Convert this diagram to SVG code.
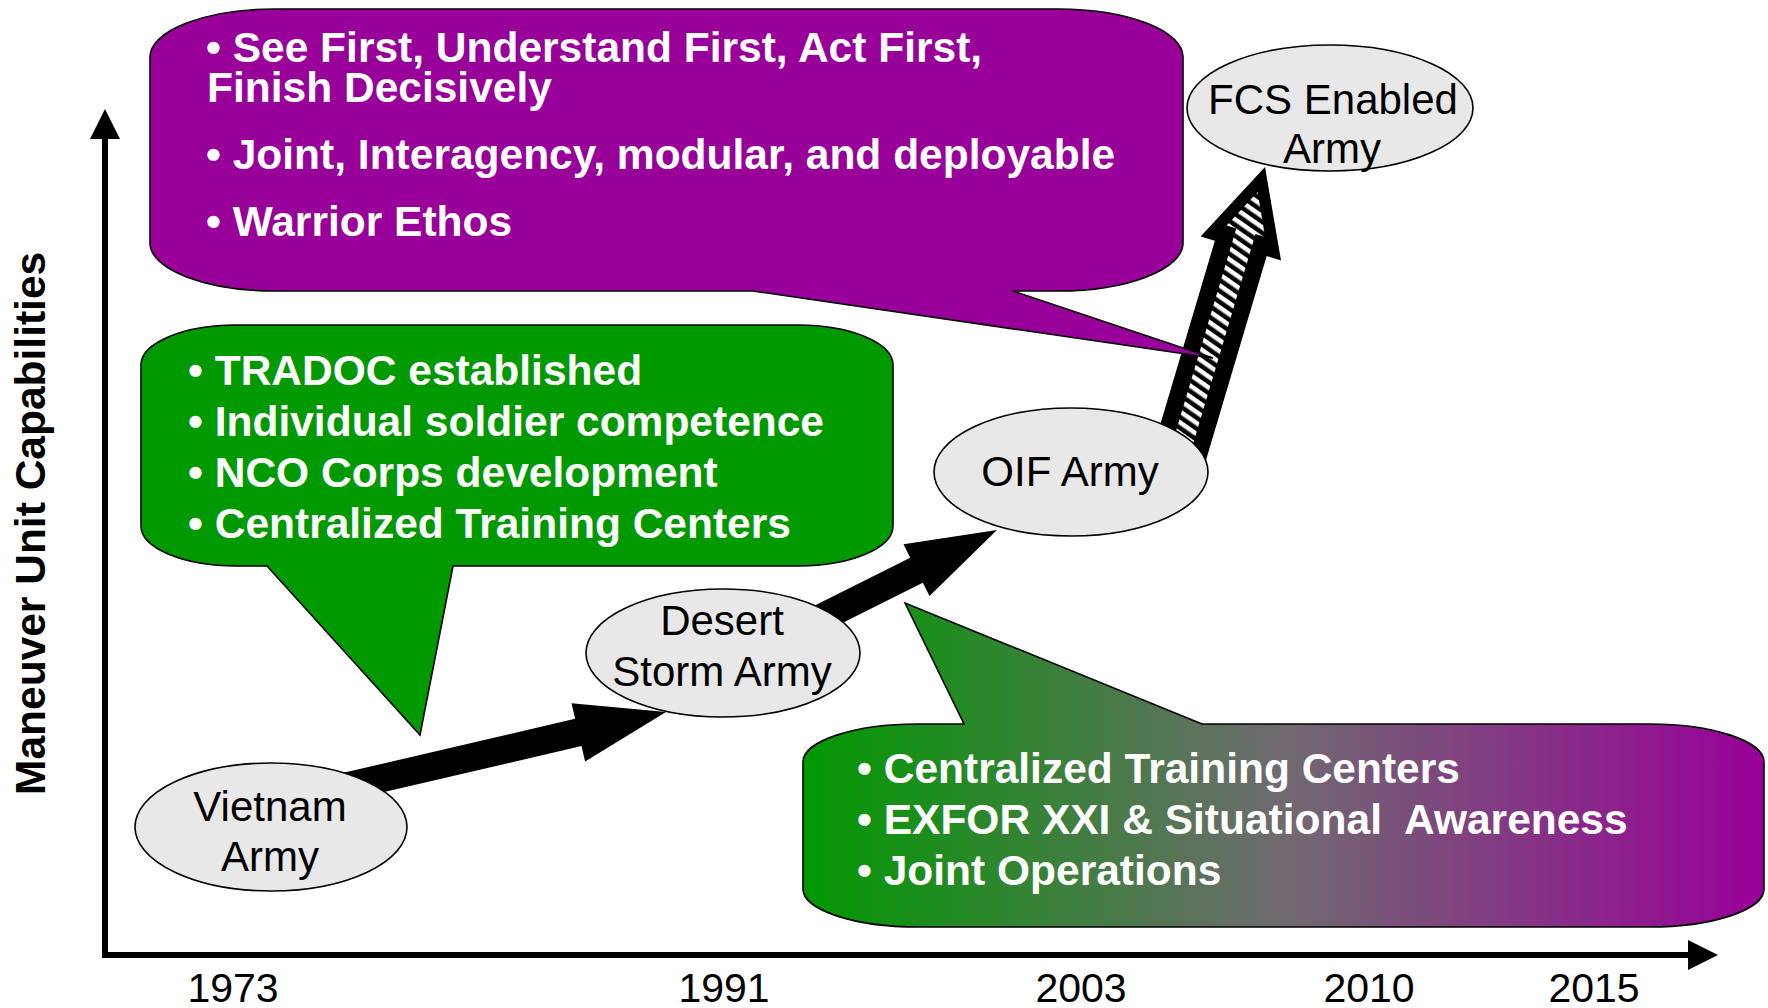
<svg xmlns="http://www.w3.org/2000/svg" width="1768" height="1008" viewBox="0 0 1768 1008">
<defs>
<style>
.node ellipse{fill:#e8e8e8;stroke:#000;stroke-width:1.6}
.nl{font-family:"Liberation Sans",Arial,sans-serif;font-size:42px;fill:#000;text-anchor:middle}
.ct{font-family:"Liberation Sans",Arial,sans-serif;font-size:42.5px;font-weight:bold;fill:#fff;white-space:pre}
.yr{font-family:"Liberation Sans",Arial,sans-serif;font-size:41px;fill:#000;text-anchor:middle}
.callout{stroke:#000;stroke-width:1.6}
.blk{fill:#000}
</style>
<linearGradient id="gp" gradientUnits="userSpaceOnUse" x1="803" y1="0" x2="1764" y2="0">
<stop offset="0" stop-color="#009900"/>
<stop offset="0.5" stop-color="#706a70"/>
<stop offset="1" stop-color="#990099"/>
</linearGradient>
<pattern id="hatch" patternUnits="userSpaceOnUse" width="9" height="9" patternTransform="rotate(35)">
<rect width="9" height="9" fill="#000"/>
<rect width="9" height="4.5" fill="#fff"/>
</pattern>
</defs>
<rect width="1768" height="1008" fill="#fff"/>

<g id="axes">
<path d="M105,139 V955 H1690" fill="none" stroke="#000" stroke-width="6"/>
<polygon points="105,109 90,139 120,139" class="blk"/>
<polygon points="1718,955 1688,940 1688,970" class="blk"/>
<text transform="translate(45,795) rotate(-90)" font-family="Liberation Sans, Arial, sans-serif" font-size="42.5" font-weight="bold" fill="#000">Maneuver Unit Capabilities</text>
<text class="yr" x="233" y="1002">1973</text>
<text class="yr" x="724" y="1002">1991</text>
<text class="yr" x="1081" y="1002">2003</text>
<text class="yr" x="1369" y="1002">2010</text>
<text class="yr" x="1594" y="1002">2015</text>
</g>

<g id="connectors">
<polygon class="blk" points="666,712 585.1,761.6 581.5,746 318.6,807.3 312.2,780.1 575.1,718.8 571.5,703.2"/>
<polygon class="blk" points="997,530 929.5,596.1 922.8,582.7 779.8,654.3 767.2,629.3 910.2,557.7 903.5,544.3"/>
<polygon class="blk" points="1265,167 1281,260.4 1266.7,256.1 1199.7,481.3 1147.9,465.9 1214.9,240.7 1200.6,236.4"/>
<polygon fill="url(#hatch)" points="1257.6,191.9 1265.1,236.9 1255.5,234.1 1184,474.5 1164.8,468.8 1236.3,228.4 1226.7,225.5"/>
</g>

<g id="callout-future">
<path class="callout" fill="#990099" d="M275,9 H1058 A125,48 0 0 1 1183,57 V243 A125,48 0 0 1 1058,291 H1013 L1213,358 L753,291 H275 A125,48 0 0 1 150,243 V57 A125,48 0 0 1 275,9 Z"/>
<text class="ct" x="206" y="62">• See First, Understand First, Act First,</text>
<text class="ct" x="207" y="102">Finish Decisively</text>
<text class="ct" x="206" y="169">• Joint, Interagency, modular, and deployable</text>
<text class="ct" x="206" y="236">• Warrior Ethos</text>
</g>

<g id="callout-1973">
<path class="callout" fill="#009900" d="M236,325 H798 A95,40 0 0 1 893,365 V526 A95,40 0 0 1 798,566 H453 L420,735 L267,566 H236 A95,40 0 0 1 141,526 V365 A95,40 0 0 1 236,325 Z"/>
<text class="ct" x="188" y="385">• TRADOC established</text>
<text class="ct" x="188" y="436">• Individual soldier competence</text>
<text class="ct" x="188" y="487">• NCO Corps development</text>
<text class="ct" x="188" y="538">• Centralized Training Centers</text>
</g>

<g id="callout-1991">
<path class="callout" fill="url(#gp)" d="M918,724 H964 L905,603 L1202,724 H1649 A115,38 0 0 1 1764,762 V889 A115,38 0 0 1 1649,927 H918 A115,38 0 0 1 803,889 V762 A115,38 0 0 1 918,724 Z"/>
<text class="ct" x="857" y="783">• Centralized Training Centers</text>
<text class="ct" x="857" y="834" xml:space="preserve">• EXFOR XXI &amp; Situational  Awareness</text>
<text class="ct" x="857" y="885">• Joint Operations</text>
</g>

<g id="node-vietnam" class="node">
<ellipse cx="271" cy="827" rx="136" ry="64"/>
<text class="nl" x="270" y="821">Vietnam</text>
<text class="nl" x="270" y="871">Army</text>
</g>

<g id="node-desert-storm" class="node">
<ellipse cx="723" cy="653" rx="137" ry="64"/>
<text class="nl" x="722" y="635">Desert</text>
<text class="nl" x="722" y="686">Storm Army</text>
</g>

<g id="node-oif" class="node">
<ellipse cx="1071" cy="472" rx="137" ry="64"/>
<text class="nl" x="1070" y="486">OIF Army</text>
</g>

<g id="node-fcs" class="node">
<ellipse cx="1330" cy="108" rx="143" ry="63"/>
<text class="nl" x="1333" y="114">FCS Enabled</text>
<text class="nl" x="1332" y="163">Army</text>
</g>
</svg>
